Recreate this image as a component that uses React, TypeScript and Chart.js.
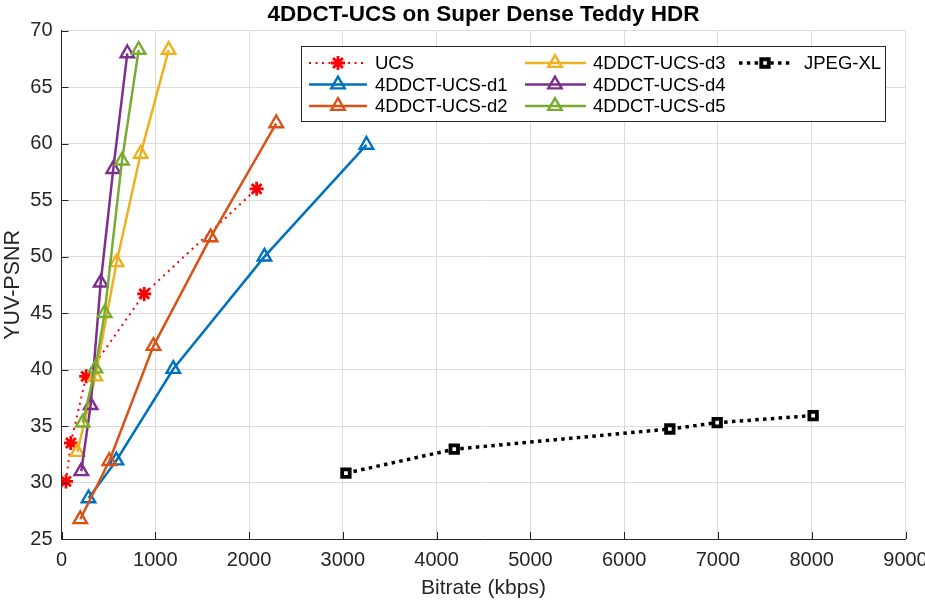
import React, { useEffect, useRef } from "react";
import { Chart, registerables } from "chart.js";

Chart.register(...registerables);

const TITLE = "4DDCT-UCS on Super Dense Teddy HDR";
const X_LABEL = "Bitrate (kbps)";
const Y_LABEL = "YUV-PSNR";

const ucsX = [48, 100, 263, 882, 2081];
const ucsY = [30.1, 33.5, 39.4, 46.7, 56.0];
const d1X = [288, 585, 1192, 2164, 3252];
const d1Y = [28.6, 31.95, 40.05, 50.0, 59.9];
const d2X = [200, 510, 981, 1590, 2290];
const d2Y = [26.75, 31.9, 42.1, 51.7, 61.8];
const d3X = [169, 361, 588, 844, 1143];
const d3Y = [32.7, 39.4, 49.5, 59.1, 68.3];
const d4X = [211, 311, 418, 552, 702];
const d4Y = [31.0, 36.85, 47.7, 57.75, 68.0];
const d5X = [226, 361, 460, 645, 823];
const d5Y = [35.3, 40.1, 45.0, 58.5, 68.3];
const jxlX = [3033, 4188, 6487, 6992, 8015];
const jxlY = [30.83, 32.95, 34.74, 35.3, 35.93];

const X_MIN = 0, X_MAX = 9000, X_STEP = 1000;
const Y_MIN = 25, Y_MAX = 70, Y_STEP = 5;

const FONT = "'Liberation Sans', Arial, Helvetica, sans-serif";
const TXT = "#262626";

const pts = (xs: number[], ys: number[]) => xs.map((x, i) => ({ x, y: ys[i] }));

type S = {
  label: string; xs: number[]; ys: number[]; color: string; style: string;
  dash: number[]; width: number; radius: number; pbw: number; pbg: string;
};

const SERIES: S[] = [
  { label: "UCS", xs: ucsX, ys: ucsY, color: "#FF0000", style: "star", dash: [2, 4.5], width: 2, radius: 7, pbw: 2.8, pbg: "transparent" },
  { label: "4DDCT-UCS-d1", xs: d1X, ys: d1Y, color: "#0072BD", style: "triangle", dash: [], width: 2.5, radius: 7.8, pbw: 2.4, pbg: "transparent" },
  { label: "4DDCT-UCS-d2", xs: d2X, ys: d2Y, color: "#D95319", style: "triangle", dash: [], width: 2.5, radius: 7.8, pbw: 2.4, pbg: "transparent" },
  { label: "4DDCT-UCS-d3", xs: d3X, ys: d3Y, color: "#EDB120", style: "triangle", dash: [], width: 2.5, radius: 7.8, pbw: 2.4, pbg: "transparent" },
  { label: "4DDCT-UCS-d4", xs: d4X, ys: d4Y, color: "#7E2F8E", style: "triangle", dash: [], width: 2.5, radius: 7.8, pbw: 2.4, pbg: "transparent" },
  { label: "4DDCT-UCS-d5", xs: d5X, ys: d5Y, color: "#77AC30", style: "triangle", dash: [], width: 2.5, radius: 7.8, pbw: 2.4, pbg: "transparent" },
  { label: "JPEG-XL", xs: jxlX, ys: jxlY, color: "#000000", style: "rect", dash: [3.5, 4.3], width: 3.5, radius: 5.3, pbw: 3.8, pbg: "#ffffff" },
];

// legend layout (column-major, like the reference)
const LEG_BOX = { l: 301.5, t: 46.5, r: 885.5, b: 121.5 };
const LEG_ROWS = [63, 84.5, 106];
const LEG_COLS = [
  { l0: 309, l1: 367, m: 338, tx: 375 },
  { l0: 525, l1: 586, m: 555, tx: 593 },
  { l0: 739, l1: 790, m: 765, tx: 804 },
];

function drawMarker(ctx: CanvasRenderingContext2D, s: S, x: number, y: number) {
  ctx.save();
  ctx.strokeStyle = s.color;
  ctx.lineWidth = s.pbw;
  ctx.setLineDash([]);
  const r = s.radius;
  ctx.beginPath();
  if (s.style === "triangle") {
    let a = 0;
    ctx.moveTo(x + Math.sin(a) * r, y - Math.cos(a) * r);
    a += (2 * Math.PI) / 3;
    ctx.lineTo(x + Math.sin(a) * r, y - Math.cos(a) * r);
    a += (2 * Math.PI) / 3;
    ctx.lineTo(x + Math.sin(a) * r, y - Math.cos(a) * r);
    ctx.closePath();
    ctx.stroke();
  } else if (s.style === "rect") {
    const h = r * Math.SQRT1_2;
    ctx.fillStyle = s.pbg;
    ctx.rect(x - h, y - h, 2 * h, 2 * h);
    ctx.fill();
    ctx.stroke();
  } else {
    for (let k = 0; k < 4; k++) {
      const a = (k * Math.PI) / 4;
      ctx.moveTo(x - Math.cos(a) * r, y - Math.sin(a) * r);
      ctx.lineTo(x + Math.cos(a) * r, y + Math.sin(a) * r);
    }
    ctx.stroke();
  }
  ctx.restore();
}

const decorPlugin = {
  id: "decor",
  afterDraw(chart: any) {
    const ctx: CanvasRenderingContext2D = chart.ctx;
    const { left, right, top, bottom } = chart.chartArea;
    const xs = chart.scales.x;
    const ys = chart.scales.y;
    ctx.save();
    // inward ticks
    ctx.strokeStyle = TXT;
    ctx.lineWidth = 1;
    ctx.beginPath();
    for (let v = X_MIN; v <= X_MAX; v += X_STEP) {
      const px = Math.round(xs.getPixelForValue(v)) + 0.5;
      ctx.moveTo(px, bottom);
      ctx.lineTo(px, bottom - 7);
    }
    for (let v = Y_MIN; v <= Y_MAX; v += Y_STEP) {
      const py = Math.round(ys.getPixelForValue(v)) + 0.5;
      ctx.moveTo(left, py);
      ctx.lineTo(left + 7, py);
    }
    ctx.stroke();

    // title
    ctx.fillStyle = "#000";
    ctx.font = `bold 22.5px ${FONT}`;
    ctx.textAlign = "center";
    ctx.textBaseline = "middle";
    ctx.fillText(TITLE, (left + right) / 2, 15);

    // legend
    ctx.fillStyle = "#ffffff";
    ctx.fillRect(LEG_BOX.l, LEG_BOX.t, LEG_BOX.r - LEG_BOX.l, LEG_BOX.b - LEG_BOX.t);
    ctx.strokeStyle = TXT;
    ctx.lineWidth = 1;
    ctx.strokeRect(LEG_BOX.l, LEG_BOX.t, LEG_BOX.r - LEG_BOX.l, LEG_BOX.b - LEG_BOX.t);
    ctx.font = `18.5px ${FONT}`;
    ctx.textAlign = "left";
    ctx.textBaseline = "middle";
    SERIES.forEach((s, i) => {
      const col = LEG_COLS[Math.floor(i / 3)];
      const y = LEG_ROWS[i % 3];
      ctx.save();
      ctx.strokeStyle = s.color;
      ctx.lineWidth = s.width;
      ctx.setLineDash(s.dash);
      ctx.beginPath();
      ctx.moveTo(col.l0, y);
      ctx.lineTo(col.l1, y);
      ctx.stroke();
      ctx.restore();
      drawMarker(ctx, s, col.m, y);
      ctx.fillStyle = "#000";
      ctx.fillText(s.label, col.tx, y + 1);
    });
    ctx.restore();
  },
};

export default function App() {
  const ref = useRef<HTMLCanvasElement | null>(null);
  useEffect(() => {
    if (!ref.current) return;
    const chart = new Chart(ref.current, {
      type: "line",
      data: {
        datasets: SERIES.map((s, i) => ({
          label: s.label,
          data: pts(s.xs, s.ys),
          borderColor: s.color,
          backgroundColor: s.pbg,
          borderWidth: s.width,
          borderDash: s.dash,
          pointStyle: s.style as any,
          pointRadius: s.radius,
          pointBorderWidth: s.pbw,
          pointBorderColor: s.color,
          pointBackgroundColor: s.pbg,
          fill: false,
          tension: 0,
          order: -i,
        })),
      },
      plugins: [decorPlugin],
      options: {
        animation: false,
        responsive: true,
        maintainAspectRatio: false,
        devicePixelRatio: 1,
        layout: { padding: { left: 0, right: 19.5, top: 30.7, bottom: 0 } },
        plugins: { legend: { display: false }, title: { display: false }, tooltip: { enabled: false } },
        scales: {
          x: {
            type: "linear",
            min: X_MIN,
            max: X_MAX,
            ticks: { stepSize: X_STEP, color: TXT, font: { family: FONT, size: 20 }, padding: 9, maxRotation: 0, callback: (v: any) => String(v) },
            grid: { color: "#dcdcdc", drawTicks: false, lineWidth: 1 },
            border: { color: TXT, width: 1 },
            title: { display: true, text: X_LABEL, color: TXT, font: { family: FONT, size: 21 }, padding: { top: 0, bottom: 1 } },
            afterFit: (sc: any) => { sc.height = 63; sc.paddingLeft = 0; sc.paddingRight = 0; },
          },
          y: {
            type: "linear",
            min: Y_MIN,
            max: Y_MAX,
            ticks: { stepSize: Y_STEP, color: TXT, font: { family: FONT, size: 20 }, padding: 9, callback: (v: any) => String(v) },
            grid: { color: "#dcdcdc", drawTicks: false, lineWidth: 1 },
            border: { color: TXT, width: 1 },
            title: { display: true, text: Y_LABEL, color: TXT, font: { family: FONT, size: 21.5 }, padding: { top: 0, bottom: 0 } },
            afterFit: (sc: any) => { sc.width = 61.5; sc.paddingTop = 0; sc.paddingBottom = 0; },
          },
        },
      } as any,
    });
    return () => chart.destroy();
  }, []);
  return (
    <div style={{ position: "absolute", left: 0, top: 0, width: 925, height: 602, background: "#fff" }}>
      <canvas ref={ref} />
    </div>
  );
}
